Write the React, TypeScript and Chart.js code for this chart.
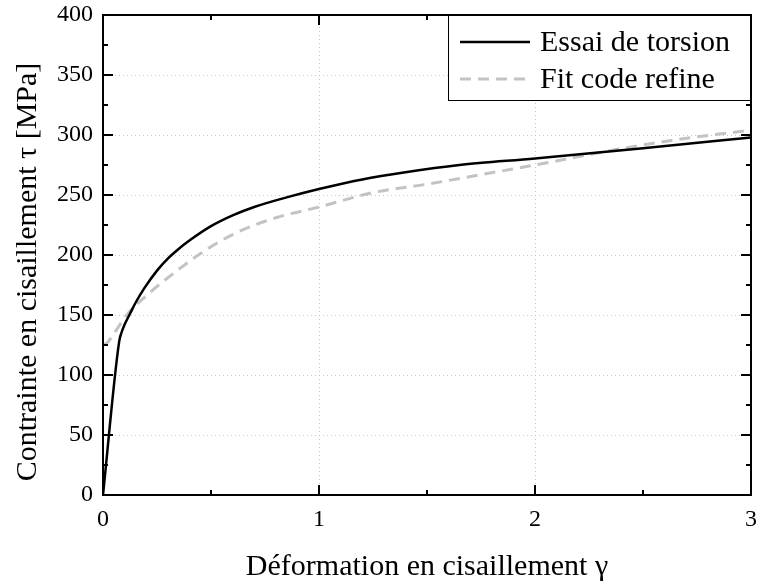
import React, { useEffect, useRef } from "react";
import { Chart, registerables } from "chart.js";

Chart.register(...registerables);

const torsionX = [0, 0.075, 0.085, 0.1, 0.125, 0.15, 0.19, 0.25, 0.3, 0.35, 0.4, 0.5, 0.6, 0.7, 0.85, 1.0, 1.2, 1.4, 1.65, 2.0, 2.5, 3.0];
const torsionY = [0, 128, 135, 142, 151, 160, 172, 187, 197, 205, 212, 224, 233, 240, 248, 255, 263, 269, 275, 280.5, 289, 298];

const fitX = [0, 0.02, 0.06, 0.11, 0.2, 0.3, 0.45, 0.6, 0.8, 1.0, 1.25, 1.5, 1.75, 2.0, 2.35, 2.65, 3.0];
const fitY = [125, 127, 137, 150, 166, 181, 201, 217, 231, 240, 252, 259, 267, 275, 287, 296, 304];

const xTicks = [0, 1, 2, 3];
const yTicks = [0, 50, 100, 150, 200, 250, 300, 350, 400];
const xMinor = [0.5, 1.5, 2.5];
const yMinor = [25, 75, 125, 175, 225, 275, 325, 375];

const labels = { torsion: "Essai de torsion", fit: "Fit code refine" };
const xTitle = "Déformation en cisaillement γ";
const yTitle = "Contrainte en cisaillement τ [MPa]";

const FONT = "'Liberation Serif', 'DejaVu Serif', serif";

const framePlugin = {
  id: "framePlugin",
  beforeDatasetsDraw(chart: any) {
    const { ctx, chartArea: a, scales } = chart;
    const xs = scales.x, ys = scales.y;
    ctx.save();
    ctx.strokeStyle = "#c4c4c4";
    ctx.lineWidth = 1;
    ctx.setLineDash([1, 3]);
    ctx.beginPath();
    for (const v of xTicks) {
      const px = Math.round(xs.getPixelForValue(v)) + 0.5;
      if (px <= a.left + 1 || px >= a.right - 1) continue;
      ctx.moveTo(px, a.top);
      ctx.lineTo(px, a.bottom);
    }
    for (const v of yTicks) {
      const py = Math.round(ys.getPixelForValue(v)) + 0.5;
      if (py <= a.top + 1 || py >= a.bottom - 1) continue;
      ctx.moveTo(a.left, py);
      ctx.lineTo(a.right, py);
    }
    ctx.stroke();
    ctx.restore();
  },
  afterDatasetsDraw(chart: any) {
    const { ctx, chartArea: a, scales } = chart;
    const xs = scales.x, ys = scales.y;
    ctx.save();
    ctx.setLineDash([]);
    ctx.strokeStyle = "#000";
    ctx.lineWidth = 2;
    ctx.beginPath();
    const tick = (vals: number[], len: number) => {
      for (const v of vals) {
        const px = xs.getPixelForValue(v);
        ctx.moveTo(px, a.bottom);
        ctx.lineTo(px, a.bottom - len);
        ctx.moveTo(px, a.top);
        ctx.lineTo(px, a.top + len);
      }
    };
    const tickY = (vals: number[], len: number) => {
      for (const v of vals) {
        const py = ys.getPixelForValue(v);
        ctx.moveTo(a.left, py);
        ctx.lineTo(a.left + len, py);
        ctx.moveTo(a.right, py);
        ctx.lineTo(a.right - len, py);
      }
    };
    tick(xTicks, 10);
    tick(xMinor, 5);
    tickY(yTicks, 10);
    tickY(yMinor, 5);
    ctx.stroke();
    ctx.strokeRect(a.left, a.top, a.right - a.left, a.bottom - a.top);
    ctx.restore();

    // y-axis title
    ctx.save();
    ctx.translate(28, (a.top + a.bottom) / 2 + 17);
    ctx.rotate(-Math.PI / 2);
    ctx.font = `30px ${FONT}`;
    ctx.fillStyle = "#000";
    ctx.textAlign = "center";
    ctx.textBaseline = "middle";
    ctx.fillText(yTitle, 0, 0);
    ctx.restore();

    // legend
    const w = 303, h = 86;
    const lx = a.right - w, ly = a.top;
    ctx.save();
    ctx.fillStyle = "#fff";
    ctx.fillRect(lx, ly, w, h);
    ctx.strokeStyle = "#000";
    ctx.lineWidth = 1;
    ctx.strokeRect(lx + 0.5, ly + 0.5, w - 1, h - 1);
    ctx.font = `30px ${FONT}`;
    ctx.textBaseline = "middle";
    ctx.fillStyle = "#000";
    chart.data.datasets.forEach((ds: any, i: number) => {
      const yy = ly + 27 + i * 37;
      ctx.strokeStyle = ds.borderColor;
      ctx.lineWidth = ds.borderWidth;
      ctx.setLineDash(ds.borderDash || []);
      ctx.beginPath();
      ctx.moveTo(lx + 12, yy);
      ctx.lineTo(lx + 82, yy);
      ctx.stroke();
      ctx.setLineDash([]);
      ctx.fillText(ds.label, lx + 92, yy + 1);
    });
    ctx.restore();
  },
};

export default function App() {
  const ref = useRef<HTMLCanvasElement>(null);
  useEffect(() => {
    document.body.style.margin = "0";
    const chart = new Chart(ref.current!, {
      type: "scatter",
      data: {
        datasets: [
          {
            label: labels.torsion,
            data: torsionX.map((x, i) => ({ x, y: torsionY[i] })),
            showLine: true,
            borderColor: "#000",
            borderWidth: 2.5,
            pointRadius: 0,
            cubicInterpolationMode: "monotone",
          },
          {
            label: labels.fit,
            data: fitX.map((x, i) => ({ x, y: fitY[i] })),
            showLine: true,
            borderColor: "#c3c3c3",
            borderWidth: 3,
            borderDash: [11, 7],
            pointRadius: 0,
            cubicInterpolationMode: "monotone",
          },
        ],
      },
      options: {
        responsive: false,
        animation: false,
        devicePixelRatio: 1,
        layout: { padding: { left: 0, right: 6, top: 15, bottom: 0 } },
        plugins: { legend: { display: false }, tooltip: { enabled: false } },
        scales: {
          x: {
            type: "linear",
            min: 0,
            max: 3,
            afterBuildTicks: (s: any) => { s.ticks = xTicks.map((v) => ({ value: v })); },
            ticks: { font: { family: FONT, size: 24 }, color: "#000", padding: 10, maxRotation: 0 },
            grid: { display: false, drawTicks: false },
            border: { display: false },
            title: { display: true, text: xTitle, font: { family: FONT, size: 30 }, color: "#000", padding: { top: 0, bottom: -2 } },
            afterFit: (s: any) => { s.height = 88; s.paddingLeft = 0; s.paddingRight = 0; },
          },
          y: {
            type: "linear",
            min: 0,
            max: 400,
            afterBuildTicks: (s: any) => { s.ticks = yTicks.map((v) => ({ value: v })); },
            ticks: { font: { family: FONT, size: 24 }, color: "#000", padding: 10 },
            grid: { display: false, drawTicks: false },
            border: { display: false },
            title: { display: false },
            afterFit: (s: any) => { s.width = 103; s.paddingTop = 0; s.paddingBottom = 0; },
          },
        },
      },
      plugins: [framePlugin],
    } as any);
    return () => chart.destroy();
  }, []);
  return (
    <div style={{ position: "fixed", left: 0, top: 0, width: 757, height: 583 }}>
      <canvas ref={ref} width={757} height={583} />
    </div>
  );
}
